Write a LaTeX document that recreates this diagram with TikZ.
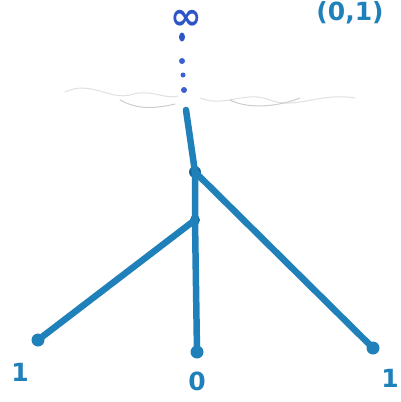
\documentclass[tikz,border=0pt]{standalone}
\usepackage{fontspec}
\setmainfont{DejaVu Sans}
\usetikzlibrary{shapes.geometric}
\begin{document}
\begin{tikzpicture}[x=1pt,y=-1pt,
  edge/.style={line width=6.5pt, line cap=round, color={rgb,255:red,32;green,128;blue,186}},
  leaf/.style={circle, fill={rgb,255:red,32;green,128;blue,186}, inner sep=0pt, minimum size=13pt},
  inner/.style={circle, fill={rgb,255:red,25;green,105;blue,160}, inner sep=0pt, minimum size=12pt},
  lab/.style={text={rgb,255:red,32;green,128;blue,186}, font=\bfseries\fontsize{25}{25}\selectfont},
  cloud/.style={draw=black!12, line width=1pt, line cap=round}]
\useasboundingbox (0,0) rectangle (401,402);
% clouds
\draw[cloud] (65,92) .. controls (90,80) and (110,100) .. (130,95) .. controls (150,88) and (165,100) .. (178,96);
\draw[cloud] (200,98) .. controls (225,108) and (245,90) .. (270,100) .. controls (295,110) and (320,92) .. (355,98);
\draw[cloud, draw=black!20] (120,100) .. controls (135,108) and (150,110) .. (175,104);
\draw[cloud, draw=black!20] (230,100) .. controls (250,110) and (280,106) .. (300,98);
% nodes
\coordinate (top) at (186,110);
\node[inner] (a) at (195,172) {};
\node[inner, minimum size=10pt] (b) at (195,220) {};
\node[leaf] (l) at (38,340) {};
\node[leaf] (m) at (197,352) {};
\node[leaf] (r) at (373,348) {};
\draw[edge] (top) -- (a.center) -- (b.center) -- (m.center);
\draw[edge] (a.center) -- (r.center);
\draw[edge] (b.center) -- (l.center);
% dots to infinity
\node[ellipse, fill={rgb,255:red,45;green,85;blue,200}, inner sep=0pt, minimum width=6pt, minimum height=9pt] (d1) at (182,37) {};
\node[circle, fill={rgb,255:red,60;green,95;blue,210}, inner sep=0pt, minimum size=6pt] (d2) at (182,61) {};
\node[circle, fill={rgb,255:red,60;green,95;blue,210}, inner sep=0pt, minimum size=5pt] (d3) at (183,75) {};
\node[circle, fill={rgb,255:red,60;green,95;blue,210}, inner sep=0pt, minimum size=6pt] (d4) at (184,90) {};
\node[text={rgb,255:red,45;green,85;blue,200}, font=\bfseries\fontsize{38}{38}\selectfont, inner sep=0pt, text height=20pt, text depth=0pt, anchor=base] (inf) at (186,29) {∞};
% labels
\node[lab] (ll) at (20,372) {1};
\node[lab] (lm) at (197,381) {0};
\node[lab] (lr) at (390,378) {1};
\node[lab, anchor=north, inner sep=0pt] (pair) at (350,1) {(0,1)};
\end{tikzpicture}
\end{document}
